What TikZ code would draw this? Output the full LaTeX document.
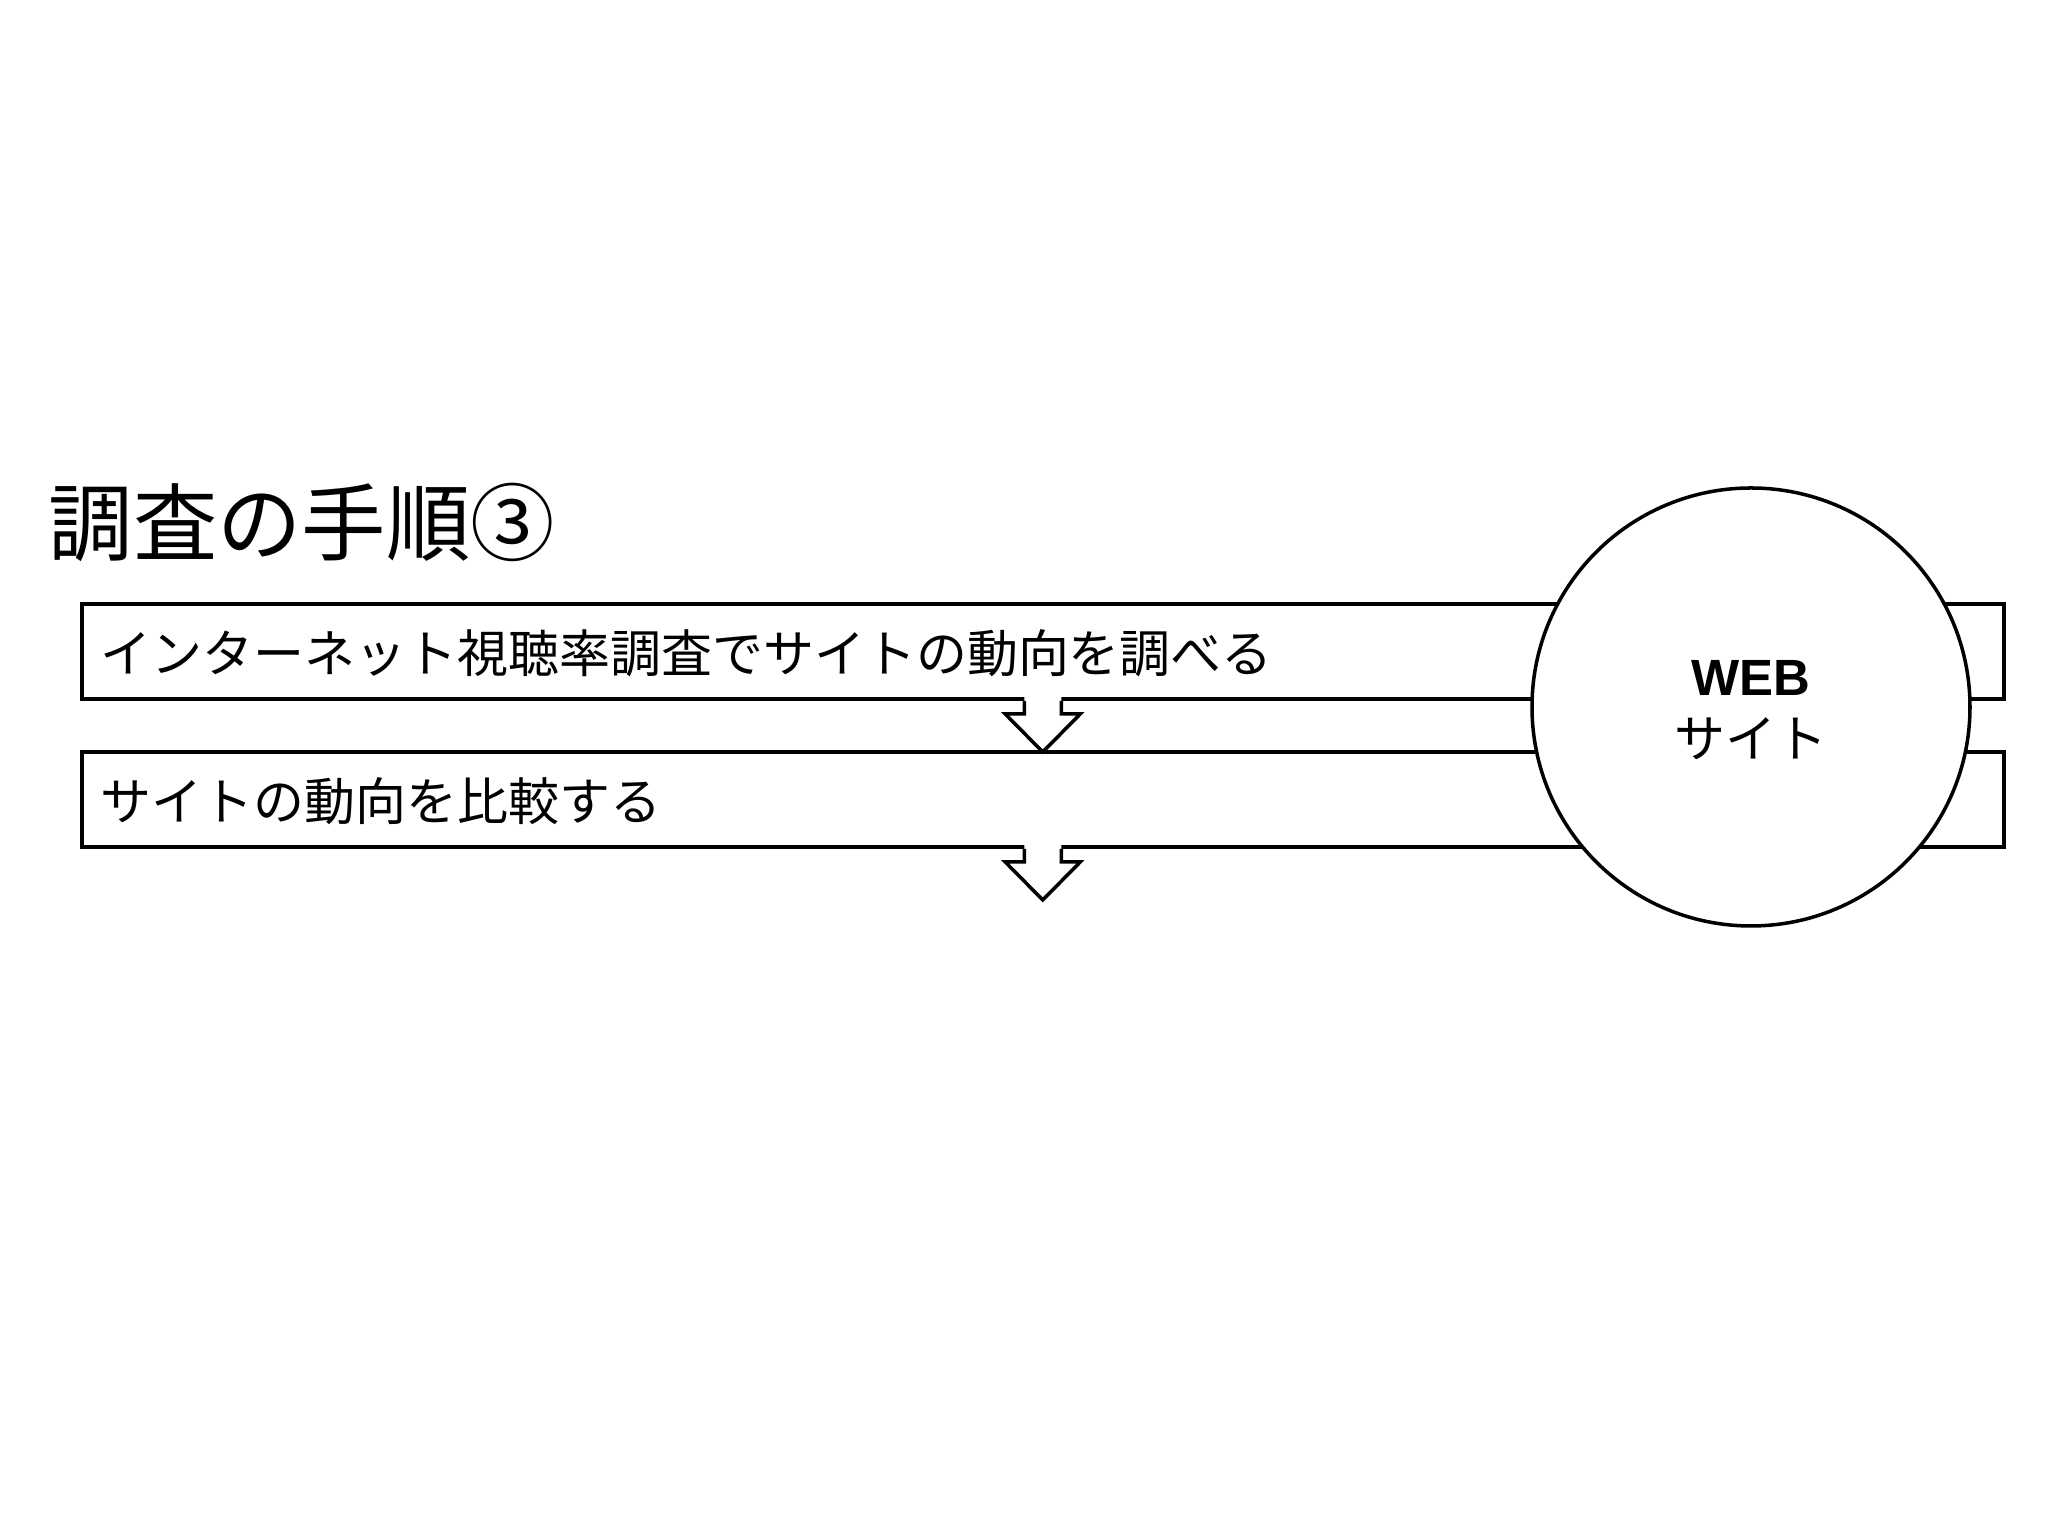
\documentclass[tikz,border=0pt]{standalone}
\usepackage{fontspec}
\setmainfont{Noto Sans CJK JP}
\newfontfamily\latinbold{Liberation Sans}
\usetikzlibrary{calc}
\tikzset{
  boxframe/.style={draw=black, line width=1pt, fill=white, minimum width=19.22cm, minimum height=0.95cm, inner sep=0pt, anchor=south west},
  boxtext/.style={anchor=west, inner sep=0pt, font=\fontsize{14.5pt}{17pt}\selectfont},
  outline/.style={draw=black, line width=1pt, line join=miter},
}
\newcommand\dnarrowshape[1]{%
  \fill[white] ($(#1)+(-0.185,0.04)$) -- ($(#1)+(-0.185,-0.13)$) -- ($(#1)+(-0.375,-0.13)$) -- ($(#1)+(0,-0.51)$) -- ($(#1)+(0.375,-0.13)$) -- ($(#1)+(0.185,-0.13)$) -- ($(#1)+(0.185,0.04)$) -- cycle;
  \draw[outline] ($(#1)+(-0.185,0)$) -- ($(#1)+(-0.185,-0.13)$) -- ($(#1)+(-0.375,-0.13)$) -- ($(#1)+(0,-0.51)$) -- ($(#1)+(0.375,-0.13)$) -- ($(#1)+(0.185,-0.13)$) -- ($(#1)+(0.185,0)$);
}
\begin{document}
\begin{tikzpicture}
\useasboundingbox (0,0) rectangle (20.48,15.36);
\node[anchor=west, inner sep=0pt, font=\fontsize{24pt}{28pt}\selectfont] (title) at (0.48,10.14) {調査の手順③};
\node[boxframe] (b1) at (0.80,8.35) {};
\node[boxframe] (b2) at (0.80,6.87) {};
\node[boxtext] (t1) at (1.00,8.825) {インターネット視聴率調査でサイトの動向を調べる};
\node[boxtext] (t2) at (1.00,7.345) {サイトの動向を比較する};
\coordinate (a1) at (b1.south);
\coordinate (a2) at (b2.south);
\dnarrowshape{a1}
\dnarrowshape{a2}
\node[circle, draw=black, line width=1pt, fill=white, minimum size=4.38cm, inner sep=0pt] (web) at (17.51,8.29) {};
\node[inner sep=0pt, font=\latinbold\bfseries\fontsize{14.5pt}{17pt}\selectfont] (webt) at (17.51,8.58) {WEB};
\node[inner sep=0pt, font=\fontsize{14.5pt}{17pt}\selectfont] (site) at (17.51,7.97) {サイト};
\end{tikzpicture}
\end{document}
